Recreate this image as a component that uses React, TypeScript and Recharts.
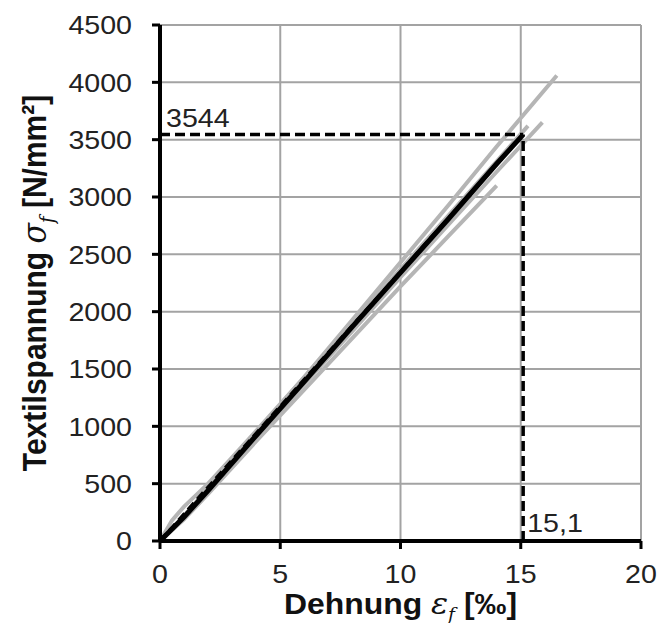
import React from "react";
import {
  LineChart,
  Line,
  XAxis,
  YAxis,
  CartesianGrid,
  ReferenceLine,
  Label,
} from "recharts";

// test curves (strain in ‰, stress in N/mm²)
const strainA = [0, 1, 2, 4, 6, 8, 10, 12, 14, 16.5];
const stressA = [0, 220, 460, 950, 1430, 1930, 2430, 2930, 3440, 4060];

const strainB = [0, 1, 2, 4, 6, 8, 10, 12, 14, 15.9];
const stressB = [0, 200, 430, 900, 1370, 1830, 2300, 2760, 3220, 3650];

const strainC = [0, 1, 2, 4, 6, 8, 10, 12, 14];
const stressC = [0, 190, 410, 870, 1320, 1770, 2220, 2660, 3100];

const strainD = [0, 0.5, 1, 1.5, 2, 3, 4, 6, 8, 10, 12, 14, 15.3];
const stressD = [0, 180, 300, 400, 500, 730, 960, 1430, 1900, 2370, 2840, 3310, 3620];

// mean curve and linear fit
const strainMean = [0, 1, 2, 4, 6, 8, 10, 12, 14, 15.1];
const stressMean = [0, 210, 440, 920, 1390, 1870, 2340, 2810, 3290, 3544];

const strainFit = [0, 15.1];
const stressFit = [0, 3544];

const xTicks = [0, 5, 10, 15, 20];
const yTicks = [0, 500, 1000, 1500, 2000, 2500, 3000, 3500, 4000, 4500];

const ultStrain = 15.1;
const ultStress = 3544;

const toPoints = (xs: number[], ys: number[]) =>
  xs.map((x, i) => ({ x, y: ys[i] }));

const grayCurves = [
  toPoints(strainA, stressA),
  toPoints(strainB, stressB),
  toPoints(strainC, stressC),
  toPoints(strainD, stressD),
];

const FONT = "'Liberation Sans', Arial, sans-serif";
const SX = 1.1;

const XTick = ({ x, y, payload }: any) => (
  <g transform={`translate(${x},${y}) scale(${SX},1)`}>
    <text textAnchor="middle" dy="0.71em" fontSize={26} fill="#222" fontFamily={FONT}>
      {payload.value}
    </text>
  </g>
);

const YTick = ({ x, y, payload }: any) => (
  <g transform={`translate(${x},${y}) scale(${SX},1)`}>
    <text textAnchor="end" dy="0.355em" fontSize={26} fill="#222" fontFamily={FONT}>
      {payload.value}
    </text>
  </g>
);

const XTitle = ({ viewBox }: any) => (
  <g transform={`translate(${viewBox.x + viewBox.width / 2},${viewBox.y + 73}) scale(${SX},1)`}>
    <text textAnchor="middle" fontSize={29} fontWeight="bold" fill="#111" fontFamily={FONT}>
      Dehnung{" "}
      <tspan fontFamily="'DejaVu Serif', serif" fontStyle="italic" fontWeight="normal">ε</tspan>
      <tspan dy={6} fontSize={17} fontFamily="'DejaVu Serif', serif" fontStyle="italic" fontWeight="normal">f</tspan>
      <tspan dy={-6}> [‰]</tspan>
    </text>
  </g>
);

const YTitle = ({ viewBox }: any) => (
  <g transform={`translate(46,${viewBox.y + viewBox.height / 2}) scale(${SX},1) rotate(-90)`}>
    <text textAnchor="middle" fontSize={30} fontWeight="bold" fill="#111" fontFamily={FONT}>
      Textilspannung{" "}
      <tspan fontFamily="'DejaVu Serif', serif" fontStyle="italic" fontWeight="normal">σ</tspan>
      <tspan dy={7} fontSize={18} fontFamily="'DejaVu Serif', serif" fontStyle="italic" fontWeight="normal">f</tspan>
      <tspan dy={-7}> [N/mm²]</tspan>
    </text>
  </g>
);

const StressLabel = ({ viewBox }: any) => (
  <g transform={`translate(${viewBox.x + 6},${viewBox.y - 8}) scale(${SX},1)`}>
    <text fontSize={26} fill="#222" fontFamily={FONT}>
      {String(ultStress)}
    </text>
  </g>
);

const StrainLabel = ({ viewBox }: any) => (
  <g transform={`translate(${viewBox.x + 4},${viewBox.y + viewBox.height - 9}) scale(${SX},1)`}>
    <text fontSize={26} fill="#222" fontFamily={FONT}>
      {String(ultStrain).replace(".", ",")}
    </text>
  </g>
);

export default function App() {
  return (
    <div style={{ position: "absolute", left: 0, top: 0, background: "#fff" }}>
      <LineChart
        width={660}
        height={623}
        margin={{ top: 25, right: 19, bottom: 0, left: 0 }}
      >
        <CartesianGrid stroke="#a3a3a3" strokeWidth={2} />
        <XAxis
          type="number"
          dataKey="x"
          domain={[0, 20]}
          ticks={xTicks}
          allowDataOverflow
          height={82}
          axisLine={{ stroke: "#000", strokeWidth: 4 }}
          tickLine={{ stroke: "#000", strokeWidth: 3 }}
          tickSize={8}
          tickMargin={16}
          tick={<XTick />}
          label={<Label content={XTitle} />}
        />
        <YAxis
          type="number"
          dataKey="y"
          domain={[0, 4500]}
          ticks={yTicks}
          allowDataOverflow
          width={160}
          axisLine={{ stroke: "#000", strokeWidth: 4 }}
          tickLine={{ stroke: "#000", strokeWidth: 3 }}
          tickSize={8}
          tickMargin={20}
          tick={<YTick />}
          label={<Label content={YTitle} />}
        />
        {grayCurves.map((pts, i) => (
          <Line
            key={`g-${i}`}
            data={pts}
            dataKey="y"
            type="linear"
            stroke="#b5b5b5"
            strokeWidth={4}
            dot={false}
            isAnimationActive={false}
          />
        ))}
        <Line
          data={toPoints(strainMean, stressMean)}
          dataKey="y"
          type="linear"
          stroke="#000"
          strokeWidth={5}
          dot={false}
          isAnimationActive={false}
        />
        <Line
          data={toPoints(strainFit, stressFit)}
          dataKey="y"
          type="linear"
          stroke="#000"
          strokeWidth={3.5}
          strokeDasharray="9 5"
          dot={false}
          isAnimationActive={false}
        />
        <ReferenceLine
          segment={[
            { x: 0, y: ultStress },
            { x: ultStrain, y: ultStress },
          ]}
          stroke="#000"
          strokeWidth={3.5}
          strokeDasharray="10 5"
          label={StressLabel}
        />
        <ReferenceLine
          segment={[
            { x: ultStrain, y: 0 },
            { x: ultStrain, y: ultStress },
          ]}
          stroke="#000"
          strokeWidth={3.5}
          strokeDasharray="10 5"
          label={StrainLabel}
        />
      </LineChart>
    </div>
  );
}
